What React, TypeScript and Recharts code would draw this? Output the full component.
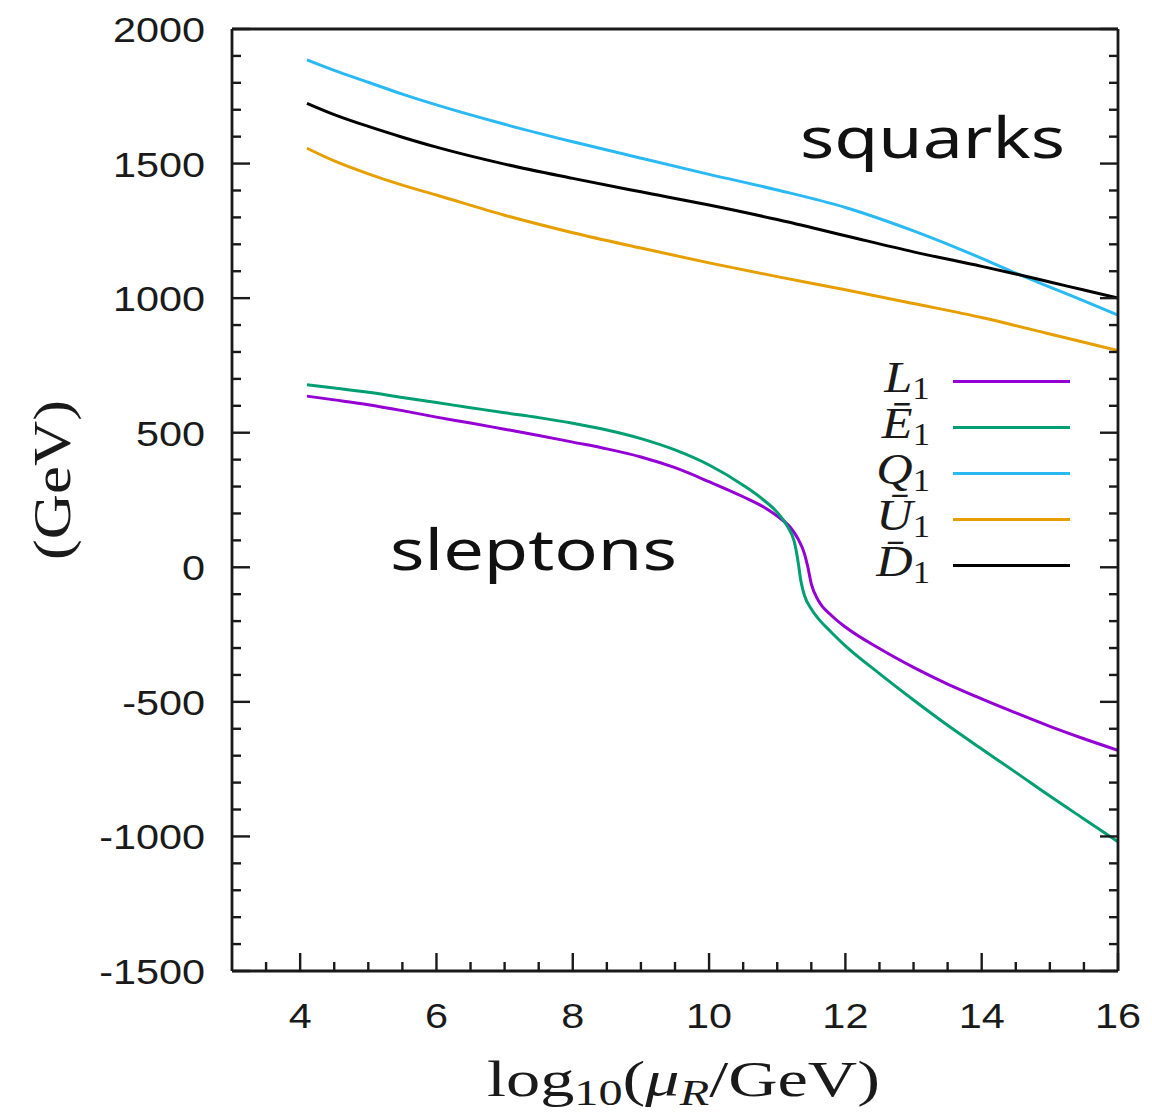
import React from 'react'
import { LineChart, Line, XAxis, YAxis, Legend } from 'recharts'

// renormalisation scale, log10(mu_R / GeV)
const squarkScale = [4.1, 4.5, 5, 5.5, 6, 7, 8, 9, 10, 11, 12, 13, 14, 14.5, 15, 15.5, 16]
const q1Mass = [1885, 1846, 1802, 1758, 1718, 1646, 1581, 1520, 1460, 1402, 1337, 1250, 1148, 1093, 1041, 990, 937]
const u1Mass = [1557, 1510, 1462, 1420, 1383, 1308, 1243, 1186, 1131, 1080, 1031, 980, 928, 898, 867, 836, 805]
const d1Mass = [1724, 1682, 1638, 1598, 1561, 1498, 1445, 1395, 1346, 1292, 1232, 1172, 1118, 1090, 1060, 1030, 1000]

const l1Scale = [4.1, 4.5, 5, 5.5, 6, 6.5, 7, 7.5, 8, 8.5, 9, 9.5, 10, 10.5, 10.8, 11, 11.2, 11.3, 11.4, 11.45, 11.5, 11.6, 11.8, 12, 12.5, 13, 13.5, 14, 14.5, 15, 15.5, 16]
const l1Mass = [636, 622, 604, 582, 558, 536, 513, 490, 465, 440, 410, 370, 318, 262, 224, 190, 146, 108, 50, 0, -62, -122, -180, -222, -302, -372, -434, -489, -541, -591, -637, -680]

const e1Scale = [4.1, 4.5, 5, 5.5, 6, 6.5, 7, 7.5, 8, 8.5, 9, 9.5, 10, 10.5, 10.8, 11, 11.15, 11.25, 11.3, 11.35, 11.4, 11.5, 11.6, 11.8, 12, 12.5, 13, 13.5, 14, 14.5, 15, 15.5, 16]
const e1Mass = [678, 666, 650, 631, 612, 593, 574, 556, 535, 510, 478, 436, 380, 305, 250, 204, 152, 95, 30, -55, -105, -155, -190, -243, -292, -395, -493, -587, -675, -762, -850, -935, -1020]

const xMajorTicks = [4, 6, 8, 10, 12, 14, 16]
const xMinorTicks = [3.5, 4.5, 5, 5.5, 6.5, 7, 7.5, 8.5, 9, 9.5, 10.5, 11, 11.5, 12.5, 13, 13.5, 14.5, 15, 15.5]
const yMajorTicks = [-1500, -1000, -500, 0, 500, 1000, 1500, 2000]
const yMinorTicks = [
  -1400, -1300, -1200, -1100, -900, -800, -700, -600, -400, -300, -200, -100,
  100, 200, 300, 400, 600, 700, 800, 900, 1100, 1200, 1300, 1400, 1600, 1700, 1800, 1900,
]

const X_DOMAIN: [number, number] = [3, 16]
const Y_DOMAIN: [number, number] = [-1500, 2000]

const toPoints = (xs: number[], ys: number[]) => xs.map((x, i) => ({ x, v: ys[i] }))

// legend glyphs: barred letters use a macron
const series = [
  { key: 'L1', letter: 'L', color: '#9400d3', data: toPoints(l1Scale, l1Mass) },
  { key: 'E1', letter: 'E\u0304', color: '#009e73', data: toPoints(e1Scale, e1Mass) },
  { key: 'Q1', letter: 'Q', color: '#2ab9f2', data: toPoints(squarkScale, q1Mass) },
  { key: 'U1', letter: 'U\u0304', color: '#e69f00', data: toPoints(squarkScale, u1Mass) },
  { key: 'D1', letter: 'D\u0304', color: '#000000', data: toPoints(squarkScale, d1Mass) },
]

const SANS = '"Liberation Sans", Arial, sans-serif'
const SERIF = '"Liberation Serif", "Times New Roman", serif'
const INK = '#1a1a1a'

const MAJOR_LEN = 18
const MINOR_LEN = 9
const X_LABEL_GAP = 31
const Y_LABEL_GAP = 27
const TICK_W = 2.4
const frameStroke = { stroke: INK, strokeWidth: 2.8 }

const allX = [...xMinorTicks, ...xMajorTicks]
const allY = [...yMinorTicks, ...yMajorTicks]

// gnuplot-style ticks: pointing inwards, labels only on major ones
const BottomTick = (props: any) => {
  const { x, y, payload } = props
  const major = xMajorTicks.includes(payload.value)
  const base = y - X_LABEL_GAP
  return (
    <g>
      <line x1={x} x2={x} y1={base} y2={base - (major ? MAJOR_LEN : MINOR_LEN)} stroke={INK} strokeWidth={TICK_W} />
      {major && (
        <g transform={`translate(${x},${y}) scale(1.15,1)`}>
          <text x={0} y={0} dy="0.71em" textAnchor="middle" fontFamily={SANS} fontSize={36} fill={INK}>
            {payload.value}
          </text>
        </g>
      )}
    </g>
  )
}

const LeftTick = (props: any) => {
  const { x, y, payload } = props
  const major = yMajorTicks.includes(payload.value)
  const base = x + Y_LABEL_GAP
  return (
    <g>
      <line x1={base} x2={base + (major ? MAJOR_LEN : MINOR_LEN)} y1={y} y2={y} stroke={INK} strokeWidth={TICK_W} />
      {major && (
        <g transform={`translate(${x},${y}) scale(1.15,1)`}>
          <text x={0} y={0} dy="0.36em" textAnchor="end" fontFamily={SANS} fontSize={36} fill={INK}>
            {payload.value}
          </text>
        </g>
      )}
    </g>
  )
}

const TopTick = (props: any) => {
  const { x, y, payload } = props
  const len = xMajorTicks.includes(payload.value) ? MAJOR_LEN : MINOR_LEN
  return <line x1={x} x2={x} y1={y} y2={y + len} stroke={INK} strokeWidth={TICK_W} />
}

const RightTick = (props: any) => {
  const { x, y, payload } = props
  const len = yMajorTicks.includes(payload.value) ? MAJOR_LEN : MINOR_LEN
  return <line x1={x} x2={x - len} y1={y} y2={y} stroke={INK} strokeWidth={TICK_W} />
}

const renderLegend = () => (
  <div style={{ display: 'flex', flexDirection: 'column' }}>
    {series.map((s) => (
      <div key={s.key} style={{ display: 'flex', alignItems: 'center', height: 46 }}>
        <div style={{ width: 110, textAlign: 'right' }}>
          <span
            style={{
              display: 'inline-block',
              transform: 'scaleX(1.12) translateY(-4px)',
              transformOrigin: 'right center',
              fontFamily: SERIF,
              color: INK,
              whiteSpace: 'nowrap',
              lineHeight: 1,
            }}
          >
            <span style={{ fontStyle: 'italic', fontSize: 45 }}>{s.letter}</span>
            <span style={{ fontSize: 31, position: 'relative', top: 7 }}>1</span>
          </span>
        </div>
        <div style={{ marginLeft: 23, width: 117, height: 3, background: s.color }} />
      </div>
    ))}
  </div>
)

export default function App() {
  return (
    <div style={{ position: 'absolute', left: 0, top: 0, width: 1152, height: 1113, background: '#fff' }}>
      <LineChart width={1152} height={1113} margin={{ top: 28, right: 33, bottom: 0, left: 132 }}>
        <XAxis
          xAxisId="main"
          dataKey="x"
          type="number"
          domain={X_DOMAIN}
          allowDataOverflow
          ticks={allX}
          interval={0}
          height={142}
          tickLine={false}
          tickSize={0}
          tickMargin={X_LABEL_GAP}
          tick={<BottomTick />}
          axisLine={frameStroke}
        />
        <YAxis
          yAxisId="main"
          type="number"
          domain={Y_DOMAIN}
          allowDataOverflow
          ticks={allY}
          interval={0}
          width={100}
          tickLine={false}
          tickSize={0}
          tickMargin={Y_LABEL_GAP}
          tick={<LeftTick />}
          axisLine={frameStroke}
        />
        {/* top and right frame with mirrored ticks */}
        <XAxis
          xAxisId="top"
          orientation="top"
          type="number"
          domain={X_DOMAIN}
          allowDataOverflow
          ticks={allX}
          interval={0}
          height={1}
          tickLine={false}
          tickSize={0}
          tickMargin={0}
          tick={<TopTick />}
          axisLine={frameStroke}
        />
        <YAxis
          yAxisId="right"
          orientation="right"
          type="number"
          domain={Y_DOMAIN}
          allowDataOverflow
          ticks={allY}
          interval={0}
          width={1}
          tickLine={false}
          tickSize={0}
          tickMargin={0}
          tick={<RightTick />}
          axisLine={frameStroke}
        />

        {series.map((s) => (
          <Line
            key={s.key}
            xAxisId="main"
            yAxisId="main"
            data={s.data}
            dataKey="v"
            name={s.key}
            type="monotone"
            stroke={s.color}
            strokeWidth={3}
            dot={false}
            activeDot={false}
            isAnimationActive={false}
          />
        ))}

        <Legend
          layout="horizontal"
          verticalAlign="middle"
          align="center"
          content={renderLegend}
          wrapperStyle={{ left: 820, top: 358, width: 280 }}
        />
      </LineChart>

      {/* axis titles and annotations */}
      <svg width={1152} height={1113} style={{ position: 'absolute', left: 0, top: 0, pointerEvents: 'none' }}>
        <text x={800} y={158} textLength={265} lengthAdjust="spacingAndGlyphs" fontFamily='"Noto Sans", sans-serif' fontSize={56} fill="#111">
          squarks
        </text>
        <text x={390} y={570} textLength={287} lengthAdjust="spacingAndGlyphs" fontFamily='"Noto Sans", sans-serif' fontSize={56} fill="#111">
          sleptons
        </text>
        <text transform="translate(70,480) rotate(-90)" textAnchor="middle" textLength={160} lengthAdjust="spacingAndGlyphs"
          fontFamily={SERIF} fontSize={53} fill={INK}>
          (GeV)
        </text>
        <text x={487} y={1096} textLength={393} lengthAdjust="spacingAndGlyphs" fontFamily={SERIF} fontSize={51} fill={INK}>
          log
          <tspan fontSize={36} dy={9}>10</tspan>
          <tspan dy={-9}>(</tspan>
          <tspan fontStyle="italic">μ</tspan>
          <tspan fontStyle="italic" fontSize={36} dy={9}>R</tspan>
          <tspan dy={-9}>/GeV)</tspan>
        </text>
      </svg>
    </div>
  )
}
